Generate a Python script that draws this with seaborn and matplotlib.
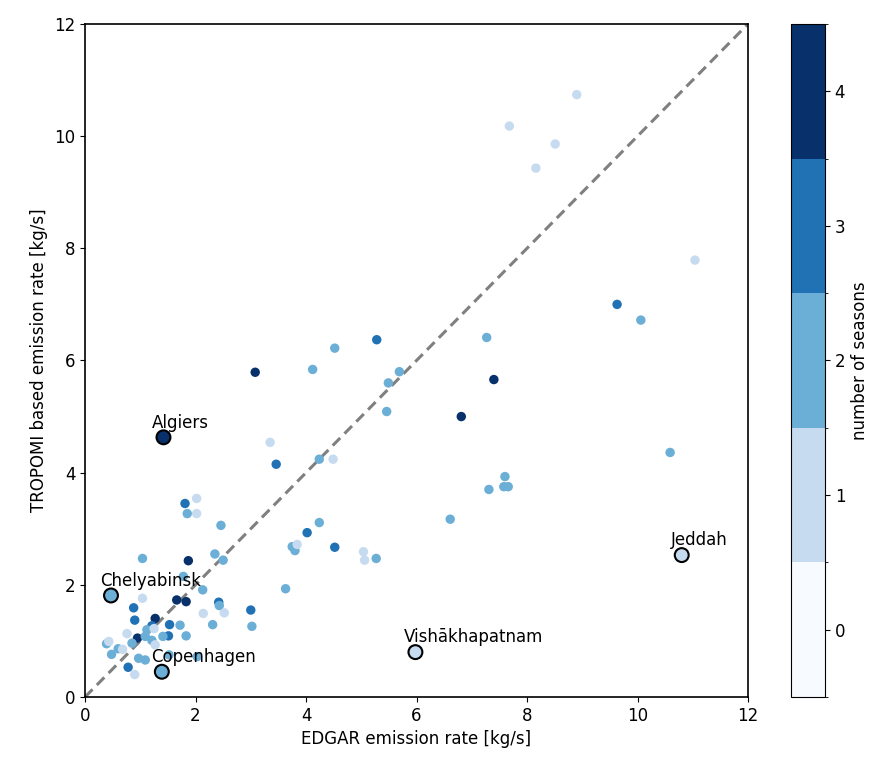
import numpy as np
import pandas as pd
import matplotlib.pyplot as plt
import matplotlib as mpl
import seaborn as sns

# EDGAR vs TROPOMI emission rates [kg/s], and number of seasons per city
edgar = [8.90, 7.68, 8.51, 8.16, 11.04, 9.63, 10.06, 7.27, 10.59, 7.40,
         6.81, 5.69, 5.49, 5.46, 5.28, 4.52, 4.12, 3.08, 3.35, 3.46,
         4.24, 4.49, 7.60, 7.58, 7.66, 7.31, 6.61, 4.24, 4.02, 3.75,
         3.80, 3.84, 4.52, 5.04, 5.06, 5.27, 3.63, 3.00, 3.02, 1.81,
         2.02, 1.85, 2.02, 2.46, 2.35, 2.50, 1.87, 1.04, 1.78, 2.13,
         1.66, 1.83, 2.42, 2.43, 2.14, 2.52, 2.31, 1.04, 0.88, 0.90,
         1.27, 1.21, 1.12, 0.76, 0.95, 0.85, 1.09, 0.39, 0.43, 0.48,
         0.60, 0.68, 0.97, 1.09, 0.78, 0.90, 1.53, 1.51, 1.72, 1.41,
         1.83, 1.21, 1.27, 1.52, 2.03, 1.25]
tropomi = [10.74, 10.18, 9.86, 9.43, 7.79, 7.00, 6.72, 6.41, 4.36, 5.66,
           5.00, 5.80, 5.60, 5.09, 6.37, 6.22, 5.84, 5.79, 4.54, 4.15,
           4.24, 4.24, 3.93, 3.75, 3.75, 3.70, 3.17, 3.11, 2.93, 2.68,
           2.61, 2.72, 2.67, 2.59, 2.44, 2.47, 1.93, 1.55, 1.26, 3.45,
           3.54, 3.27, 3.27, 3.06, 2.55, 2.44, 2.43, 2.47, 2.15, 1.91,
           1.73, 1.70, 1.69, 1.63, 1.49, 1.50, 1.29, 1.76, 1.59, 1.37,
           1.40, 1.27, 1.20, 1.13, 1.05, 0.96, 1.08, 0.95, 0.99, 0.76,
           0.86, 0.85, 0.69, 0.66, 0.53, 0.40, 1.29, 1.09, 1.28, 1.08,
           1.09, 1.01, 0.93, 0.75, 0.72, 1.22]
seasons = [1, 1, 1, 1, 1, 3, 2, 2, 2, 4,
           4, 2, 2, 2, 3, 2, 2, 4, 1, 3,
           2, 1, 2, 2, 2, 2, 2, 2, 3, 2,
           2, 1, 3, 1, 1, 2, 2, 3, 2, 3,
           1, 2, 1, 2, 2, 2, 4, 2, 2, 2,
           4, 4, 3, 2, 1, 1, 2, 1, 3, 3,
           4, 3, 2, 1, 4, 2, 2, 2, 1, 2,
           2, 1, 2, 2, 3, 1, 3, 3, 2, 2,
           2, 2, 1, 2, 2, 1]

# highlighted cities
cities = ['Algiers', 'Chelyabinsk', 'Copenhagen', 'Jeddah', 'Vishākhapatnam']
city_edgar = [1.42, 0.47, 1.39, 10.80, 5.98]
city_tropomi = [4.63, 1.81, 0.45, 2.53, 0.80]
city_seasons = [4, 2, 2, 1, 1]

df = pd.DataFrame({'edgar': edgar, 'tropomi': tropomi, 'seasons': seasons})
cities_df = pd.DataFrame({'city': cities, 'edgar': city_edgar,
                          'tropomi': city_tropomi, 'seasons': city_seasons})

sns.set_style('ticks', {'axes.edgecolor': 'black', 'text.color': 'black',
                        'axes.labelcolor': 'black', 'xtick.color': 'black',
                        'ytick.color': 'black'})
plt.rcParams['font.family'] = ['DejaVu Sans']

cmap = plt.get_cmap('Blues', 5)
norm = mpl.colors.BoundaryNorm(np.arange(-0.5, 5.5, 1), cmap.N)
palette = {k: cmap(k) for k in range(5)}

fig = plt.figure(figsize=(8.82, 7.66), dpi=100)
ax = fig.add_axes([0.0964, 0.0901, 0.7517, 0.8786])
cax = fig.add_axes([0.8968, 0.0901, 0.0385, 0.8786])

ax.plot([0, 12], [0, 12], ls=(0, (3.5, 2)), color='grey', lw=2.2, zorder=1)

sns.scatterplot(data=df, x='edgar', y='tropomi', hue='seasons', palette=palette,
                s=46, linewidth=0, legend=False, ax=ax, zorder=2)
sns.scatterplot(data=cities_df, x='edgar', y='tropomi', hue='seasons', palette=palette,
                s=100, edgecolor='black', linewidth=1.5, legend=False, ax=ax, zorder=3)

for _, row in cities_df.iterrows():
    ax.annotate(row.city, (row.edgar, row.tropomi), xytext=(-8, 7),
                textcoords='offset points', ha='left', va='baseline', fontsize=12)

ax.set_xlim(0, 12)
ax.set_ylim(0, 12)
ax.set_xticks(range(0, 13, 2))
ax.set_yticks(range(0, 13, 2))
ax.tick_params(labelsize=12)
ax.set_xlabel('EDGAR emission rate [kg/s]', fontsize=12)
ax.set_ylabel('TROPOMI based emission rate [kg/s]', fontsize=12)
for sp in ax.spines.values():
    sp.set_linewidth(1.2)

sm = mpl.cm.ScalarMappable(cmap=cmap, norm=norm)
cb = fig.colorbar(sm, cax=cax, ticks=range(5))
cb.ax.tick_params(labelsize=12)
cb.outline.set_edgecolor('black')
cb.set_label('number of seasons', fontsize=12)

plt.savefig('out.png', dpi=100)
